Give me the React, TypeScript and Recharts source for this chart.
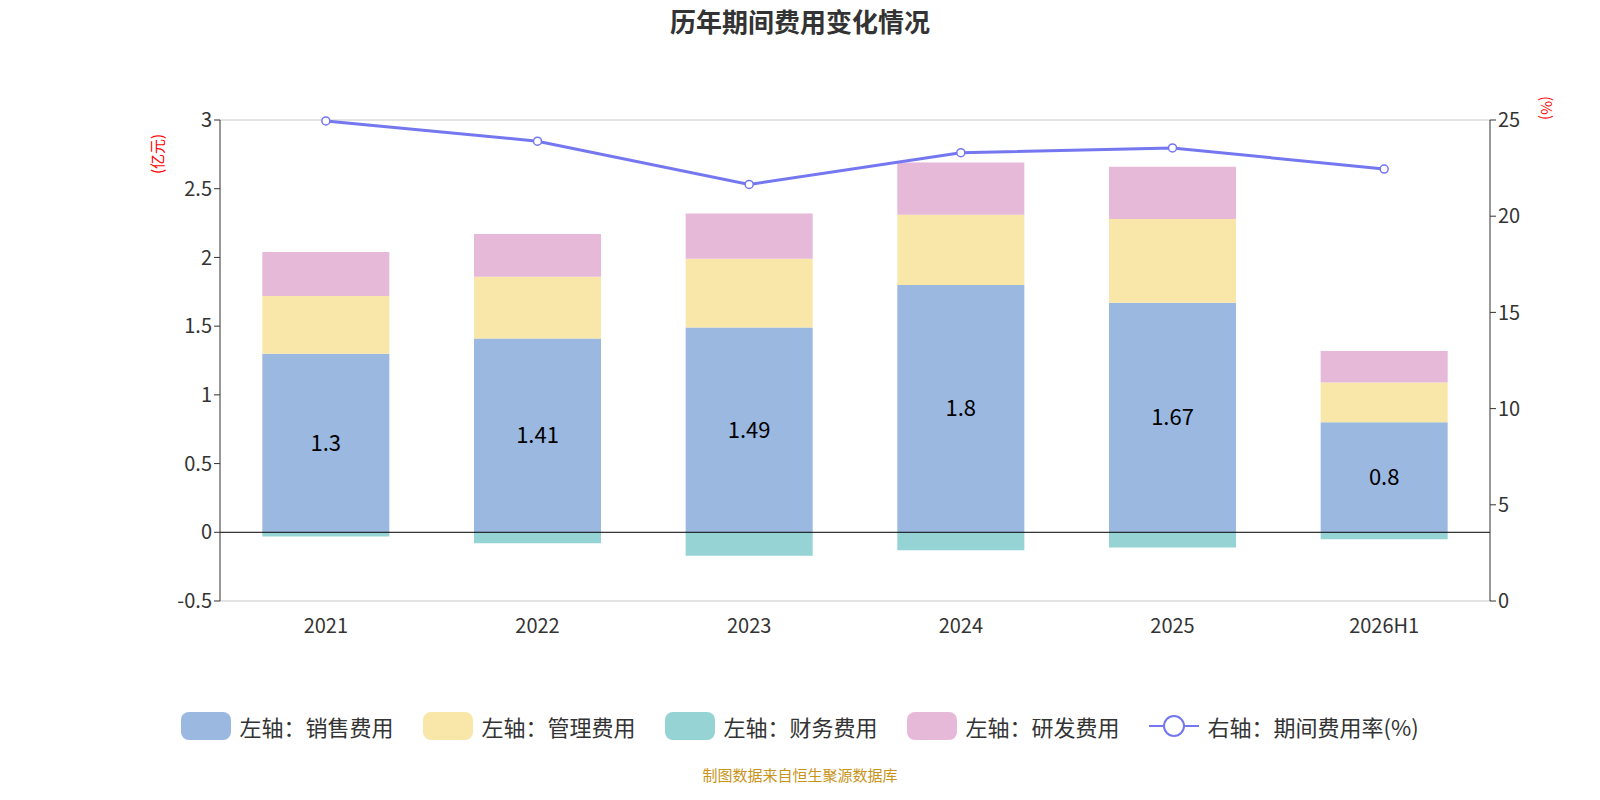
import React from "react";
import {
  Bar,
  CartesianGrid,
  ComposedChart,
  LabelList,
  Line,
  ReferenceLine,
  XAxis,
  YAxis,
} from "recharts";

const years = ["2021", "2022", "2023", "2024", "2025", "2026H1"];
const sales = [1.3, 1.41, 1.49, 1.8, 1.67, 0.8];
const admin = [0.42, 0.45, 0.5, 0.51, 0.61, 0.29];
const finance = [-0.03, -0.08, -0.17, -0.13, -0.11, -0.05];
const rnd = [0.32, 0.31, 0.33, 0.38, 0.38, 0.23];
const rate = [24.95, 23.9, 21.65, 23.3, 23.55, 22.45];
const leftTicks = [-0.5, 0, 0.5, 1, 1.5, 2, 2.5, 3];
const rightTicks = [0, 5, 10, 15, 20, 25];

const data = years.map((year, i) => ({
  year,
  sales: sales[i],
  admin: admin[i],
  finance: finance[i],
  rnd: rnd[i],
  rate: rate[i],
}));

const font = "'Noto Sans CJK SC', 'Noto Sans', sans-serif";
const legendItems = [
  { label: "左轴：销售费用", color: "#9bb8e1" },
  { label: "左轴：管理费用", color: "#f8e7a9" },
  { label: "左轴：财务费用", color: "#95d3d4" },
  { label: "左轴：研发费用", color: "#e6b9d9" },
];

export default function App() {
  return (
    <div style={{ position: "relative", width: 1584, height: 784, fontFamily: font }}>
      <div style={{ position: "absolute", top: -6, width: "100%", textAlign: "center", fontSize: 26, fontWeight: 700, color: "#333" }}>
        历年期间费用变化情况
      </div>
      <div style={{ position: "absolute", left: 138, top: 122, color: "red", fontSize: 15, transform: "rotate(-90deg)", transformOrigin: "left top", whiteSpace: "nowrap", marginTop: 44 }}>
        (亿元)
      </div>
      <div style={{ position: "absolute", left: 1530, top: 88, color: "red", fontSize: 15, transform: "rotate(90deg)", transformOrigin: "left top", whiteSpace: "nowrap", marginLeft: 20 }}>
        (%)
      </div>
      <ComposedChart
        width={1584}
        height={650}
        data={data}
        stackOffset="sign"
        barCategoryGap="20%"
        margin={{ top: 112, right: 42, left: 152, bottom: 17 }}
        style={{ fontFamily: font }}
      >
        <CartesianGrid vertical={false} stroke="#c8c8c8" />
        <XAxis dataKey="year" height={40} tickLine={false} axisLine={false} tick={{ fill: "#333", fontSize: 20 }} dy={10} />
        <YAxis yAxisId="left" width={60} domain={[-0.5, 3]} ticks={leftTicks} tick={{ fill: "#333", fontSize: 20 }} stroke="#333" />
        <YAxis yAxisId="right" orientation="right" width={60} domain={[0, 25]} ticks={rightTicks} tick={{ fill: "#333", fontSize: 20 }} stroke="#333" />
        <ReferenceLine yAxisId="left" y={0} stroke="#000" />
        <Bar yAxisId="left" dataKey="sales" stackId="a" fill="#9bb8e1" isAnimationActive={false}>
          <LabelList dataKey="sales" position="center" fill="#000" fontSize={22} />
        </Bar>
        <Bar yAxisId="left" dataKey="admin" stackId="a" fill="#f8e7a9" isAnimationActive={false} />
        <Bar yAxisId="left" dataKey="finance" stackId="a" fill="#95d3d4" isAnimationActive={false} />
        <Bar yAxisId="left" dataKey="rnd" stackId="a" fill="#e6b9d9" isAnimationActive={false} />
        <Line yAxisId="right" dataKey="rate" stroke="#7577f0" strokeWidth={3} dot={{ r: 4, fill: "#fff", stroke: "#7577f0", strokeWidth: 1.5 }} isAnimationActive={false} />
      </ComposedChart>
      <div style={{ position: "absolute", top: 702, width: "100%", display: "flex", justifyContent: "center", gap: 30, fontSize: 22, color: "#333" }}>
        {legendItems.map((it) => (
          <div key={it.label} style={{ display: "flex", alignItems: "center", gap: 8 }}>
            <div style={{ width: 50, height: 28, borderRadius: 8, background: it.color }} />
            {it.label}
          </div>
        ))}
        <div style={{ display: "flex", alignItems: "center", gap: 8 }}>
          <svg width={50} height={28}>
            <line x1={0} y1={14} x2={50} y2={14} stroke="#7577f0" strokeWidth={2} />
            <circle cx={25} cy={14} r={10} fill="#fff" stroke="#7577f0" strokeWidth={2} />
          </svg>
          右轴：期间费用率(%)
        </div>
      </div>
      <div style={{ position: "absolute", top: 756, width: "100%", textAlign: "center", fontSize: 15, color: "#c8941a" }}>
        制图数据来自恒生聚源数据库
      </div>
    </div>
  );
}
